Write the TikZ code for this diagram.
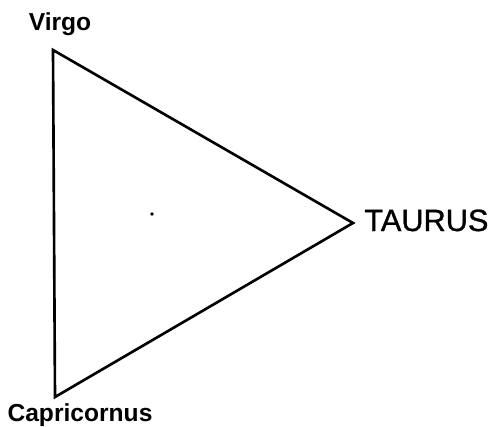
\documentclass[tikz,border=0pt]{standalone}
\usepackage{fontspec}
\setmainfont{Liberation Sans}
\newfontface\medfont[FakeBold=1]{Liberation Sans}
\begin{document}
\begin{tikzpicture}[x=0.02cm,y=-0.02cm,
  edge/.style={line width=1.5pt,line join=miter},
  small/.style={font=\fontsize{14}{16}\selectfont\bfseries,inner sep=0pt},
  big/.style={font=\fontsize{17.5}{20}\medfont,inner sep=0pt}]
\useasboundingbox (0,0) rectangle (490,426);
\coordinate (v) at (53,50);
\coordinate (t) at (353,223);
\coordinate (c) at (55,397);
\draw[edge] (v) -- (t) -- (c) -- cycle;
\node[small,anchor=base] (vl) at (60,31) {Virgo};
\node[big,anchor=base west] (tl) at (364,231) {TAURUS};
\node[small,anchor=base] (cl) at (80,421) {Capricornus};
\fill (152,214) circle (1.8);
\end{tikzpicture}
\end{document}
